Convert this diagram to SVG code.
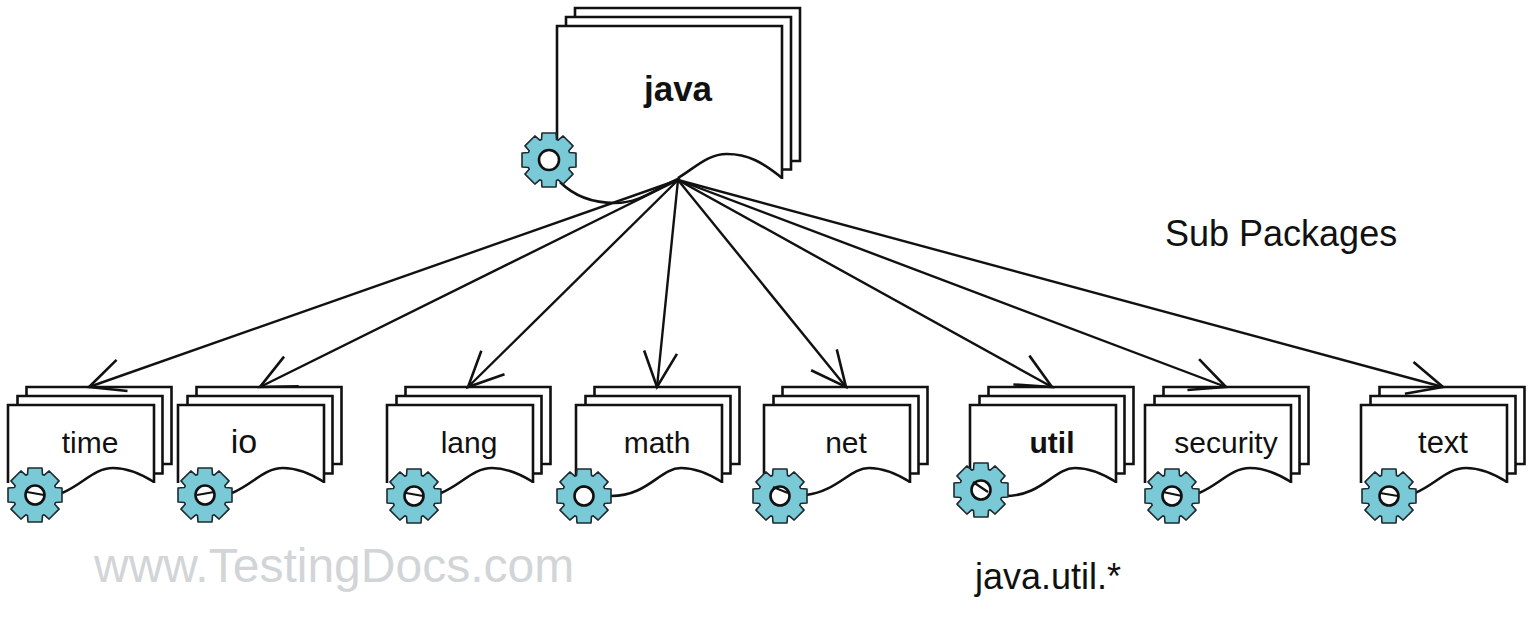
<svg xmlns="http://www.w3.org/2000/svg" width="1536" height="629" viewBox="0 0 1536 629">
<style>
text{font-family:"Liberation Sans",Arial,sans-serif;fill:#111}
.lbl{font-size:30px;text-anchor:middle}
.b{font-weight:bold}
.pg{fill:#fff;stroke:#111;stroke-width:2.6}
.front{fill:#fff;stroke:none}
.wave{fill:none;stroke:#111;stroke-width:2.6}
.slash{fill:none;stroke:#111;stroke-width:2.2}
.gear{fill:#79c9d6;stroke:#1d2a30;stroke-width:1.6;stroke-linejoin:round}
.hole{fill:#fff;stroke:#111;stroke-width:2.6}
.conn{fill:none;stroke:#111;stroke-width:2.4;marker-end:url(#open)}
</style>
<defs>
<marker id="open" markerUnits="userSpaceOnUse" markerWidth="44" markerHeight="44" refX="38" refY="22" orient="auto" overflow="visible">
<path d="M3 5.500L38 22L3 38.500" fill="none" stroke="#111" stroke-width="2.600"/>
</marker>
<path id="gearShape" d="M-7.500 -20.500L-7 -27L7 -27L7.500 -20.500L9.190 -19.800L14.140 -24.040L24.040 -14.140L19.800 -9.190L20.500 -7.500L27 -7L27 7L20.500 7.500L19.800 9.190L24.040 14.140L14.140 24.040L9.190 19.800L7.500 20.500L7 27L-7 27L-7.500 20.500L-9.190 19.800L-14.140 24.040L-24.040 14.140L-19.800 9.190L-20.500 7.500L-27 7L-27 -7L-20.500 -7.500L-19.800 -9.190L-24.040 -14.140L-14.140 -24.040L-9.190 -19.800Z"/>
<g id="smallDoc">
<path class="pg" d="M18.500 -9V-18H163.500V59H154.500"/>
<path class="pg" d="M9.500 0V-9H154.500V68.500H146"/>
<path class="front" d="M0 0H146V77C130 67 118 63 105 63C86 63 74 80 55 87L0 92Z"/>
<path class="wave" d="M0 78V0H146V78"/>
</g>
<path id="tailA" class="wave" d="M146 77C130 67 118 63 105 63C86 63 74 80 54 88"/>
<path id="tailM" class="wave" d="M146 77C130 67 118 63 105 63C84 63 72 91 35 91"/>
<path id="tailN" class="wave" d="M146 77C130 67 118 63 105 63C86 63 74 86 42 90"/>
</defs>
<rect width="1536" height="629" fill="#fff"/>
<g id="node-java">
<path class="pg" d="M575 17V8H800V161H791"/>
<path class="pg" d="M566 26V17H791V169.500H782"/>
<path class="front" d="M557 26H782V178C762 162 748 154 727 154C708 154 696 167 678 178L640 190H557Z"/>
<path class="wave" d="M557 140V26H782V179"/>
<path class="wave" d="M782 178C762 162 748 154 727 154C708 154 696 167 678 178"/>
<path class="wave" d="M560 182C575 197 595 203 615 203C640 203 655 189 680 178"/>
<use href="#gearShape" class="gear" x="549" y="160"/>
<circle class="hole" cx="549" cy="160" r="10"/>
<text x="678" y="101" class="b" font-size="35" text-anchor="middle">java</text>
</g>
<g id="node-time"><use href="#smallDoc" x="8" y="405"/><use href="#tailA" x="8" y="405"/><use href="#gearShape" class="gear" x="35" y="495"/><circle class="hole" cx="35" cy="495" r="9.500"/><path d="M27 492L44 495" class="slash"/><text x="90" y="453" class="lbl">time</text></g>
<g id="node-io"><use href="#smallDoc" x="178" y="405"/><use href="#tailA" x="178" y="405"/><use href="#gearShape" class="gear" x="205" y="495"/><circle class="hole" cx="205" cy="495" r="9.500"/><path d="M197 495L214 492" class="slash"/><text x="244" y="453" class="lbl" style="font-size:34px">io</text></g>
<g id="node-lang"><use href="#smallDoc" x="387" y="405"/><use href="#tailA" x="387" y="405"/><use href="#gearShape" class="gear" x="414" y="496"/><circle class="hole" cx="414" cy="496" r="9.500"/><path d="M406 493L423 496" class="slash"/><text x="469" y="453" class="lbl">lang</text></g>
<g id="node-math"><use href="#smallDoc" x="576" y="405"/><use href="#tailM" x="576" y="405"/><use href="#gearShape" class="gear" x="584" y="496"/><circle class="hole" cx="584" cy="496" r="9.500"/><path d="M580 487C586 486 591 488 593 493" class="slash"/><text x="657" y="453" class="lbl">math</text></g>
<g id="node-net"><use href="#smallDoc" x="764" y="405"/><use href="#tailN" x="764" y="405"/><use href="#gearShape" class="gear" x="780" y="496"/><circle class="hole" cx="780" cy="496" r="9.500"/><path d="M773 487L788 493" class="slash"/><text x="846" y="453" class="lbl">net</text></g>
<g id="node-util"><use href="#smallDoc" x="970" y="405"/><use href="#tailM" x="970" y="405"/><use href="#gearShape" class="gear" x="981" y="490"/><circle class="hole" cx="981" cy="490" r="9.500"/><path d="M973 482L988 492" class="slash"/><text x="1052" y="453" class="lbl b">util</text></g>
<g id="node-security"><use href="#smallDoc" x="1145" y="405"/><use href="#tailA" x="1145" y="405"/><use href="#gearShape" class="gear" x="1172" y="496"/><circle class="hole" cx="1172" cy="496" r="9.500"/><path d="M1163 492L1182 496" class="slash"/><text x="1226" y="453" class="lbl">security</text></g>
<g id="node-text"><use href="#smallDoc" x="1361" y="405"/><use href="#tailA" x="1361" y="405"/><use href="#gearShape" class="gear" x="1389" y="496"/><circle class="hole" cx="1389" cy="496" r="9.500"/><path d="M1380 493L1398 496" class="slash"/><text x="1443" y="453" class="lbl" style="font-size:31px">text</text></g>
<g id="connectors">
<line class="conn" x1="678" y1="180" x2="89" y2="387"/>
<line class="conn" x1="678" y1="180" x2="260" y2="387"/>
<line class="conn" x1="678" y1="180" x2="468" y2="387"/>
<line class="conn" x1="678" y1="180" x2="657" y2="387"/>
<line class="conn" x1="678" y1="180" x2="846" y2="387"/>
<line class="conn" x1="678" y1="180" x2="1052" y2="387"/>
<line class="conn" x1="678" y1="180" x2="1226" y2="387"/>
<line class="conn" x1="678" y1="180" x2="1443" y2="387"/>
</g>
<text x="1165" y="246" font-size="36">Sub Packages</text>
<text x="975" y="589" font-size="36">java.util.*</text>
<text x="94" y="582" font-size="48" style="fill:#d2d5d8">www.TestingDocs.com</text>
</svg>
